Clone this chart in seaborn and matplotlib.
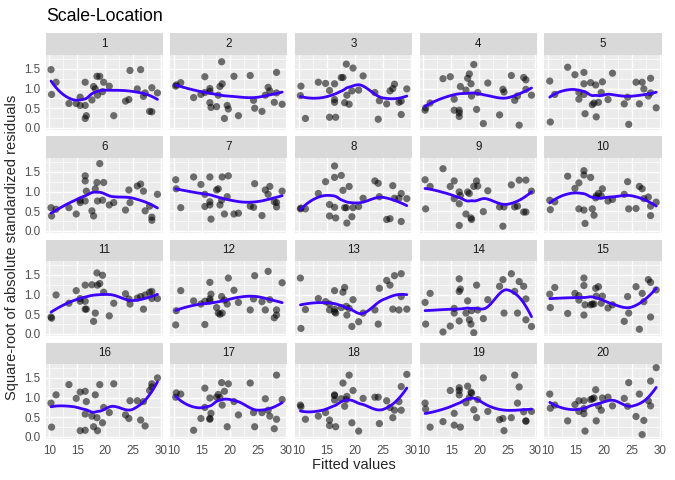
import numpy as np
import pandas as pd
import matplotlib
matplotlib.use("Agg")
import matplotlib.pyplot as plt
from matplotlib.patches import Rectangle
from matplotlib.ticker import MultipleLocator, FormatStrFormatter
import seaborn as sns

# fitted values (shared by every panel)
fitted = [10.3, 10.4, 11.2, 13.5, 14.8, 15.5, 15.5, 16.4, 16.4, 16.4, 16.6, 17.6, 17.9, 18.2, 18.5, 18.6,
          19.0, 19.5, 19.7, 20.7, 21.5, 23.6, 24.2, 24.4, 25.7, 26.3, 26.8, 27.1, 27.9, 28.3, 28.3, 29.3]

# sqrt(|standardized residuals|) for each simulated panel
p1 = [1.48, 0.85, 1.16, 0.62, 0.62, 0.78, 0.57, 1.16, 0.57, 0.24, 0.31, 0.71, 1.05, 0.99, 1.31, 0.83,
      1.31, 0.92, 1.16, 1.06, 0.31, 0.68, 0.72, 1.46, 0.99, 1.48, 0.80, 0.89, 0.42, 0.41, 1.02, 0.89]
p2 = [1.06, 1.09, 1.15, 0.77, 0.85, 1.30, 0.90, 1.00, 0.93, 0.64, 0.52, 0.54, 0.83, 1.05, 1.68, 1.12,
      0.24, 0.57, 0.48, 1.31, 0.31, 1.33, 0.70, 0.50, 0.42, 0.83, 1.03, 0.94, 0.65, 1.41, 0.89, 0.60]
p3 = [0.82, 1.06, 0.24, 1.16, 1.13, 0.95, 0.27, 1.12, 0.72, 0.65, 0.27, 1.28, 1.28, 0.64, 1.62, 0.83,
      0.60, 0.94, 1.52, 0.96, 1.32, 0.90, 0.22, 0.69, 0.61, 0.94, 1.00, 1.11, 0.65, 0.34, 0.68, 0.99]
p4 = [0.45, 0.51, 0.63, 1.25, 1.30, 0.73, 0.45, 0.45, 0.38, 0.29, 1.05, 0.96, 1.26, 1.37, 1.12, 0.81,
      1.61, 0.47, 0.90, 0.11, 1.14, 0.33, 0.98, 0.91, 1.33, 0.70, 0.81, 0.07, 1.28, 1.22, 0.98, 0.83]
p5 = [1.19, 0.15, 0.85, 1.54, 1.35, 0.90, 0.73, 1.41, 1.12, 0.85, 0.36, 1.15, 0.59, 0.63, 1.09, 0.28,
      0.65, 0.90, 1.17, 0.72, 1.39, 0.61, 0.78, 0.09, 1.16, 0.61, 1.16, 0.99, 0.81, 1.26, 0.89, 0.51]
p6 = [0.59, 0.38, 0.55, 0.59, 0.43, 0.72, 0.78, 1.40, 1.27, 0.76, 1.01, 0.51, 0.38, 1.07, 1.23, 0.76,
      1.71, 0.78, 1.23, 0.66, 0.72, 0.53, 1.04, 0.72, 1.14, 1.19, 1.01, 0.51, 0.63, 0.35, 0.27, 0.93]
p7 = [1.30, 1.07, 0.59, 1.37, 1.18, 0.62, 0.93, 1.37, 0.74, 0.66, 0.30, 1.04, 1.07, 0.66, 0.78, 1.37,
      0.43, 0.87, 1.40, 0.43, 0.45, 0.63, 0.60, 1.20, 0.39, 1.04, 0.93, 1.13, 0.74, 0.61, 0.72, 1.01]
p8 = [0.56, 0.58, 0.56, 0.95, 1.25, 0.67, 0.38, 1.36, 1.65, 0.60, 0.33, 1.41, 1.03, 0.59, 0.59, 0.20,
      1.13, 0.36, 0.59, 0.62, 0.83, 1.27, 1.21, 0.87, 0.29, 0.31, 1.15, 0.83, 0.83, 0.95, 0.24, 0.82]
p9 = [1.30, 0.56, 1.13, 1.58, 1.13, 0.82, 1.27, 0.99, 0.69, 0.14, 0.90, 0.43, 0.99, 0.95, 0.33, 0.29,
      1.13, 1.27, 1.14, 0.49, 1.02, 0.61, 0.12, 0.61, 1.17, 0.61, 0.63, 1.29, 0.48, 1.29, 0.48, 1.01]
p10 = [0.78, 0.54, 0.74, 1.39, 1.08, 1.22, 0.56, 1.53, 1.42, 0.53, 0.19, 1.36, 0.56, 0.40, 0.84, 0.89,
       0.95, 0.89, 1.07, 0.76, 0.80, 0.93, 1.25, 0.56, 0.57, 1.13, 1.07, 0.82, 0.86, 0.63, 0.39, 0.73]
p11 = [0.43, 0.40, 0.99, 0.78, 1.10, 0.90, 0.83, 1.24, 0.63, 0.83, 0.63, 1.25, 0.32, 0.53, 1.55, 1.24,
       1.28, 1.49, 1.06, 0.46, 0.78, 1.02, 0.89, 0.76, 0.91, 0.95, 0.63, 0.99, 1.06, 1.08, 0.90, 0.90]
p12 = [0.23, 0.59, 1.10, 0.84, 0.76, 0.24, 0.83, 1.31, 0.89, 0.84, 1.01, 0.67, 0.53, 0.50, 0.95, 0.53,
       0.86, 0.76, 1.42, 1.11, 0.80, 0.61, 0.89, 1.48, 0.82, 0.61, 1.59, 0.87, 0.41, 0.61, 0.48, 1.30]
p13 = [1.42, 0.14, 0.62, 0.90, 0.82, 0.61, 0.76, 1.10, 0.56, 0.63, 0.53, 0.67, 1.06, 1.18, 0.70, 0.48,
       0.65, 0.19, 0.87, 0.31, 0.53, 0.61, 0.25, 1.16, 1.36, 1.24, 0.63, 1.48, 0.61, 1.53, 0.95, 0.63]
p14 = [0.80, 0.25, 1.03, 0.05, 0.20, 0.53, 0.65, 1.40, 1.08, 0.33, 1.14, 0.53, 0.84, 0.36, 0.25, 0.59,
       0.03, 1.24, 0.61, 0.39, 0.87, 1.21, 1.38, 0.53, 1.53, 1.08, 0.53, 1.33, 1.21, 0.89, 0.36, 0.19]
p15 = [1.01, 0.67, 1.18, 0.52, 1.03, 0.86, 0.97, 1.42, 1.23, 0.48, 0.74, 0.74, 0.76, 0.76, 1.16, 0.96,
       1.20, 0.78, 0.96, 0.66, 0.74, 0.32, 0.95, 0.53, 1.20, 0.12, 1.03, 0.82, 1.38, 1.31, 0.43, 1.12]
p16 = [0.86, 0.25, 1.07, 1.33, 0.98, 1.14, 0.16, 1.16, 0.17, 0.58, 0.90, 0.53, 0.26, 1.07, 0.49, 0.16,
       1.33, 0.36, 0.75, 0.62, 1.35, 0.56, 0.47, 0.92, 0.92, 0.43, 0.90, 0.28, 1.18, 1.35, 1.27, 1.50]
p17 = [1.01, 1.12, 1.09, 0.17, 0.47, 1.24, 0.75, 0.47, 0.45, 0.99, 0.60, 1.01, 1.08, 1.00, 1.38, 0.81,
       1.16, 0.26, 1.35, 0.90, 0.56, 1.37, 0.62, 0.26, 0.62, 0.97, 0.68, 0.53, 0.21, 0.45, 1.57, 0.95]
p18 = [0.81, 0.77, 0.45, 0.53, 0.62, 0.43, 0.29, 1.07, 1.05, 0.94, 0.26, 0.97, 1.37, 0.78, 0.95, 1.03,
       1.57, 0.36, 1.18, 0.15, 0.98, 1.01, 1.01, 0.34, 0.92, 0.75, 0.49, 0.68, 0.90, 0.68, 1.28, 1.59]
p19 = [0.86, 0.71, 0.25, 0.39, 1.18, 0.60, 0.30, 1.25, 1.18, 1.07, 0.25, 0.87, 1.29, 1.00, 1.14, 1.11,
       0.69, 0.49, 0.95, 1.50, 0.65, 0.44, 0.47, 0.16, 0.49, 1.57, 0.86, 1.27, 0.64, 0.41, 0.40, 0.65]
p20 = [1.09, 0.73, 0.81, 0.41, 0.82, 0.92, 0.65, 0.92, 0.59, 0.72, 0.15, 0.95, 0.97, 0.99, 1.20, 0.41,
       0.79, 0.68, 0.99, 1.01, 0.79, 0.98, 0.78, 1.38, 0.52, 1.09, 0.06, 0.42, 0.92, 1.42, 0.79, 1.76]

panels = [p1, p2, p3, p4, p5, p6, p7, p8, p9, p10, p11, p12, p13, p14, p15, p16, p17, p18, p19, p20]

rows = []
for i, vals in enumerate(panels):
    for fx, v in zip(fitted, vals):
        rows.append({"panel": i + 1, "fitted": fx, "sqrt_res": v})
df = pd.DataFrame(rows)


def local_fit(x, y, g, q):
    # local quadratic with tricube weights -> value and slope at g
    d = np.abs(x - g)
    h = np.sort(d)[q - 1]
    w = np.clip(1 - (d / h) ** 3, 0, None) ** 3
    X = np.column_stack([np.ones_like(x), x - g, (x - g) ** 2])
    W = np.sqrt(w)
    beta = np.linalg.lstsq(X * W[:, None], y * W, rcond=None)[0]
    return beta[0], beta[1]


def loess(x, y, grid, span=0.75):
    # roughly R's loess: fits at kd-tree vertices + cubic Hermite interpolation
    x = np.asarray(x, float)
    y = np.asarray(y, float)
    n = len(x)
    q = int(np.floor(n * span))
    fc = int(np.floor(n * span * 0.2))
    xs = np.sort(x)
    mu = 0.005 * (xs[-1] - xs[0])
    verts = [xs[0] - mu, xs[-1] + mu]

    def split(lo, hi, a, b):
        if hi - lo + 1 <= fc:
            return
        m = (lo + hi) // 2
        v = (xs[m] + xs[m + 1]) / 2
        if v <= a or v >= b:
            return
        verts.append(v)
        split(lo, m, a, v)
        split(m + 1, hi, v, b)

    split(0, n - 1, verts[0], verts[1])
    verts = np.array(sorted(set(verts)))
    vals = np.array([local_fit(x, y, v, q) for v in verts])
    out = []
    for g in grid:
        k = min(np.searchsorted(verts, g, side="right") - 1, len(verts) - 2)
        x0, x1 = verts[k], verts[k + 1]
        hh = x1 - x0
        t = (g - x0) / hh
        h00 = 2 * t ** 3 - 3 * t ** 2 + 1
        h10 = t ** 3 - 2 * t ** 2 + t
        h01 = -2 * t ** 3 + 3 * t ** 2
        h11 = t ** 3 - t ** 2
        out.append(h00 * vals[k, 0] + h10 * hh * vals[k, 1] + h01 * vals[k + 1, 0] + h11 * hh * vals[k + 1, 1])
    return np.array(out)


sns.set_style("whitegrid")
plt.rcParams["font.family"] = ["Liberation Sans", "DejaVu Sans"]

fig, axes = plt.subplots(4, 5, figsize=(6.75, 4.8), dpi=100, sharex=True, sharey=True)
fig.subplots_adjust(left=0.0677, right=0.980, top=0.885, bottom=0.085, wspace=0.065, hspace=0.375)

xr = max(fitted) - min(fitted)
xlim = (min(fitted) - 0.05 * xr, max(fitted) + 0.05 * xr)
ymin, ymax = df["sqrt_res"].min(), df["sqrt_res"].max()
yr = ymax - ymin
ylim = (ymin - 0.05 * yr, ymax + 0.05 * yr)
grid = np.linspace(min(fitted), max(fitted), 80)

for i, ax in enumerate(axes.flat):
    sub = df[df["panel"] == i + 1]
    ax.set_facecolor("#EBEBEB")
    for s in ax.spines.values():
        s.set_visible(False)
    ax.xaxis.set_major_locator(MultipleLocator(5))
    ax.xaxis.set_minor_locator(MultipleLocator(2.5))
    ax.yaxis.set_major_locator(MultipleLocator(0.5))
    ax.yaxis.set_minor_locator(MultipleLocator(0.25))
    ax.grid(which="major", color="white", linewidth=1.0)
    ax.grid(which="minor", color="white", linewidth=0.5)
    ax.set_axisbelow(True)

    sns.scatterplot(data=sub, x="fitted", y="sqrt_res", ax=ax, color="black", alpha=0.55,
                    s=27, edgecolor="none", zorder=3)
    smooth = pd.DataFrame({"fitted": grid, "fit": loess(sub["fitted"], sub["sqrt_res"], grid)})
    sns.lineplot(data=smooth, x="fitted", y="fit", ax=ax, color="#3D00FF", linewidth=2, zorder=4)

    ax.set_xlim(xlim)
    ax.set_ylim(ylim)
    ax.set_xlabel("")
    ax.set_ylabel("")
    ax.tick_params(which="major", length=2.5, width=0.8, color="#333333", labelsize=8.4,
                   labelcolor="#4D4D4D", pad=1.5)
    ax.tick_params(which="minor", length=0)
    ax.yaxis.set_major_formatter(FormatStrFormatter("%.1f"))

    # facet strip
    ax.add_patch(Rectangle((0, 1), 1, 0.29, transform=ax.transAxes, clip_on=False,
                           facecolor="#D9D9D9", edgecolor="none"))
    ax.text(0.5, 1.145, str(i + 1), transform=ax.transAxes, ha="center", va="center",
            fontsize=8.4, color="#1A1A1A")

fig.text(0.0677, 0.965, "Scale-Location", fontsize=12.7, ha="left", va="center", color="black")
fig.text(0.524, 0.031, "Fitted values", fontsize=10.5, ha="center", va="center")
fig.text(0.018, 0.485, "Square-root of absolute standardized residuals", fontsize=10.5,
         rotation=90, ha="center", va="center")

fig.savefig("out.png", dpi=100)
